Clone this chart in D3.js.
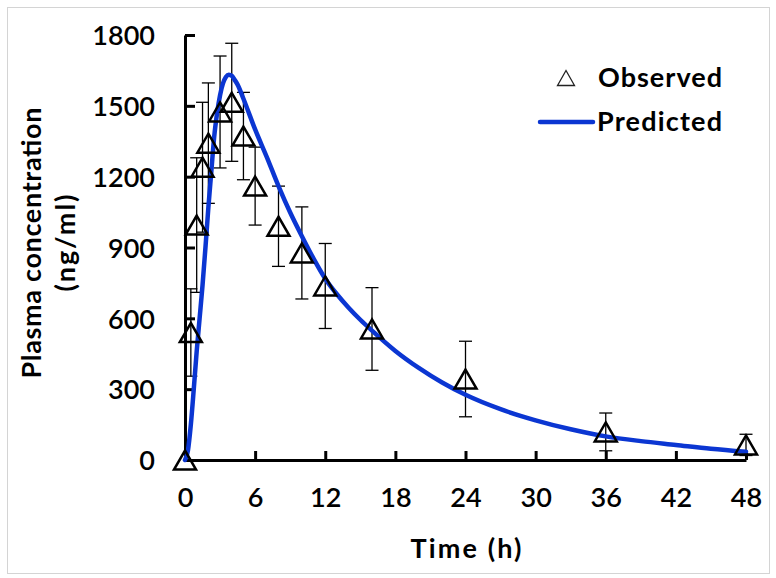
<!DOCTYPE html>
<html>
<head>
<meta charset="utf-8">
<script src="https://cdn.jsdelivr.net/npm/d3@7/dist/d3.min.js"></script>
<style>
  html, body { margin: 0; padding: 0; background: #fff; }
  svg { display: block; }
  text { font-family: Lato, "Open Sans", sans-serif; fill: #000; }
</style>
</head>
<body>
<svg id="chart" width="776" height="578"></svg>
<script>
// ---- data ----
const xTicks = [0, 6, 12, 18, 24, 30, 36, 42, 48];
const yTicks = [0, 300, 600, 900, 1200, 1500, 1800];

const obsTime = [0, 0.5, 1, 1.5, 2, 3, 4, 5, 6, 8, 10, 12, 16, 24, 36, 48];
const obsConc = [0, 540, 995, 1240, 1342, 1474, 1515, 1372, 1160, 990, 877, 737, 555, 343, 119, 64];
const obsSD   = [0, 185, 285, 275, 255, 237, 250, 185, 165, 170, 195, 180, 175, 160, 80, 45];

const predTime = [0, 0.25, 0.5, 0.75, 1, 1.25, 1.5, 1.75, 2, 2.25, 2.5, 2.75, 3, 3.25, 3.5, 3.75, 4, 4.25, 4.5, 5, 6, 7, 8, 9, 10, 11, 12, 13, 14, 15, 16, 18, 20, 22, 24, 27, 30, 33, 36, 39, 42, 45, 48];
const predConc = [0, 40, 150, 300, 460, 600, 740, 900, 1070, 1220, 1370, 1470, 1545, 1595, 1622, 1632, 1627, 1610, 1590, 1530, 1400, 1283, 1160, 1048, 948, 853, 768, 702, 645, 594, 548, 462, 390, 328, 276, 215, 168, 130, 100, 80, 64, 48, 35];

const legendLabels = ["Observed", "Predicted"];
const xTitle = "Time (h)";
const yTitle = ["Plasma concentration", "(ng/ml)"];

// ---- layout ----
const svg = d3.select("#chart");
const blue = "#0b36d2";
const FS = 27;

svg.append("rect")
  .attr("x", 7.5).attr("y", 7.5).attr("width", 762).attr("height", 566)
  .attr("fill", "none").attr("stroke", "#d4d4d4").attr("stroke-width", 1);

const x = d3.scaleLinear().domain([0, 48]).range([185, 746]);
const y = d3.scaleLinear().domain([0, 1800]).range([460, 35]);

// axes
const xAxis = d3.axisBottom(x).tickValues(xTicks).tickFormat(d3.format("d"))
  .tickSizeInner(-9).tickSizeOuter(0).tickPadding(0);
const yAxis = d3.axisLeft(y).tickValues(yTicks).tickFormat(d3.format("d"))
  .tickSizeInner(-10).tickSizeOuter(0).tickPadding(0);

const gx = svg.append("g").attr("transform", `translate(0,${y(0)})`).call(xAxis);
gx.select(".domain").attr("stroke", "#000").attr("stroke-width", 3);
gx.selectAll(".tick line").attr("stroke", "#000").attr("stroke-width", 3);
gx.selectAll(".tick text").attr("y", 47).attr("dy", 0)
  .style("font-size", FS + "px").style("font-weight", "600");

const gy = svg.append("g").attr("transform", `translate(${x(0)},0)`).call(yAxis);
gy.select(".domain").attr("stroke", "#000").attr("stroke-width", 3);
gy.selectAll(".tick line").attr("stroke", "#000").attr("stroke-width", 3);
gy.selectAll(".tick text").attr("x", -30).attr("dy", "0.36em")
  .style("font-size", FS + "px").style("font-weight", "600");

// titles
svg.append("text").attr("x", 466).attr("y", 558).attr("text-anchor", "middle")
  .attr("textLength", 111).attr("lengthAdjust", "spacing")
  .style("font-size", FS + "px").style("font-weight", "bold").text(xTitle);

const yTitleLen = [271, 97];
yTitle.forEach((t, i) => {
  svg.append("text")
    .attr("transform", `translate(${41 + i * 34},243) rotate(-90)`)
    .attr("text-anchor", "middle")
    .attr("textLength", yTitleLen[i]).attr("lengthAdjust", "spacing")
    .style("font-size", FS + "px").style("font-weight", "bold").text(t);
});

// error bars
const errG = svg.append("g").attr("stroke", "#000").attr("stroke-width", 1.3).attr("fill", "none");
obsTime.forEach((t, i) => {
  if (obsSD[i] <= 0) return;
  const cx = x(t), y1 = y(obsConc[i] + obsSD[i]), y2 = y(obsConc[i] - obsSD[i]);
  errG.append("line").attr("x1", cx).attr("x2", cx).attr("y1", y1).attr("y2", y2);
  errG.append("line").attr("x1", cx - 6.5).attr("x2", cx + 6.5).attr("y1", y1).attr("y2", y1);
  errG.append("line").attr("x1", cx - 6.5).attr("x2", cx + 6.5).attr("y1", y2).attr("y2", y2);
});

// predicted line
const line = d3.line().x((d, i) => x(predTime[i])).y(d => y(d)).curve(d3.curveMonotoneX);
svg.append("path").datum(predConc).attr("d", line)
  .attr("fill", "none").attr("stroke", blue).attr("stroke-width", 4.5)
  .attr("stroke-linejoin", "round").attr("stroke-linecap", "round");

// observed triangles
const tri = "M0,-9.5 L11,9.5 L-11,9.5 Z";
svg.append("g").selectAll("path").data(obsConc).join("path")
  .attr("d", tri)
  .attr("transform", (d, i) => `translate(${x(obsTime[i])},${y(d)})`)
  .attr("fill", "none").attr("stroke", "#000").attr("stroke-width", 2.5)
  .attr("stroke-linejoin", "miter");

// legend
const lg = svg.append("g");
lg.append("path").attr("d", "M0,-7.5 L8.5,7.5 L-8.5,7.5 Z")
  .attr("transform", "translate(566,78)")
  .attr("fill", "none").attr("stroke", "#222").attr("stroke-width", 1.3);
lg.append("text").attr("x", 598).attr("y", 87)
  .attr("textLength", 124).attr("lengthAdjust", "spacing")
  .style("font-size", FS + "px").style("font-weight", "bold").text(legendLabels[0]);
lg.append("line").attr("x1", 540).attr("x2", 593).attr("y1", 122).attr("y2", 122)
  .attr("stroke", blue).attr("stroke-width", 4.5).attr("stroke-linecap", "round");
lg.append("text").attr("x", 597).attr("y", 131)
  .attr("textLength", 125).attr("lengthAdjust", "spacing")
  .style("font-size", FS + "px").style("font-weight", "bold").text(legendLabels[1]);
</script>
</body>
</html>
